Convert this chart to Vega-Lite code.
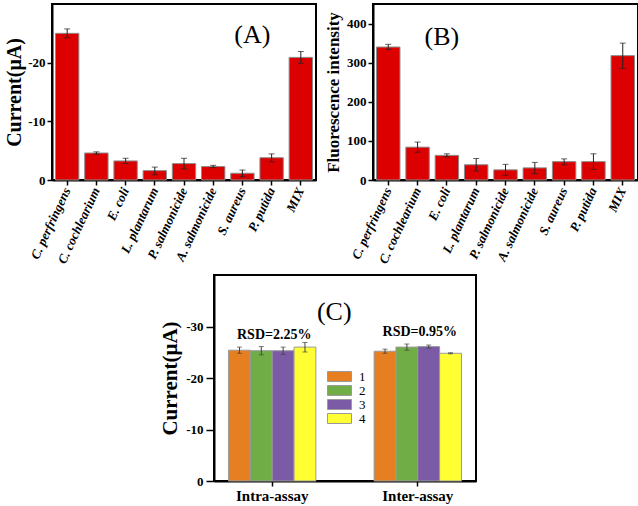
{
  "$schema": "https://vega.github.io/schema/vega-lite/v6.json",
  "background": "white",
  "padding": {"left": 3, "top": 3, "right": 0, "bottom": 0},
  "config": {
    "font": "Liberation Serif",
    "view": {"stroke": "black", "strokeWidth": 2},
    "axis": {
      "grid": false,
      "domainColor": "black",
      "domainWidth": 2,
      "tickColor": "black",
      "tickWidth": 1.5,
      "tickSize": 5,
      "labelOverlap": false,
      "labelFont": "Liberation Serif",
      "labelFontWeight": "bold",
      "labelFontSize": 13,
      "labelColor": "black",
      "titleFont": "Liberation Serif",
      "titleFontWeight": "bold",
      "titleColor": "black"
    },
    "legend": {"labelFont": "Liberation Serif", "labelColor": "black"}
  },
  "datasets": {
    "panelA": [
      {"species": "C. perfringens", "current": -25.0, "lo": -25.75, "hi": -24.25},
      {"species": "C. cochlearium", "current": -4.6, "lo": -4.8, "hi": -4.4},
      {"species": "E. coli", "current": -3.25, "lo": -3.7, "hi": -2.8},
      {"species": "L. plantarum", "current": -1.6, "lo": -2.2, "hi": -0.9},
      {"species": "P. salmonicide", "current": -2.8, "lo": -3.7, "hi": -1.9},
      {"species": "A. salmonicide", "current": -2.3, "lo": -2.5, "hi": -2.1},
      {"species": "S. aureus", "current": -1.15, "lo": -1.7, "hi": -0.55},
      {"species": "P. putida", "current": -3.8, "lo": -4.45, "hi": -3.1},
      {"species": "MIX", "current": -20.9, "lo": -21.9, "hi": -19.9}
    ],
    "panelB": [
      {"species": "C. perfringens", "intensity": 340, "lo": 334, "hi": 347},
      {"species": "C. cochlearium", "intensity": 84, "lo": 71, "hi": 97},
      {"species": "E. coli", "intensity": 63, "lo": 59, "hi": 67},
      {"species": "L. plantarum", "intensity": 39, "lo": 23, "hi": 55},
      {"species": "P. salmonicide", "intensity": 26, "lo": 12, "hi": 40},
      {"species": "A. salmonicide", "intensity": 31, "lo": 16, "hi": 45},
      {"species": "S. aureus", "intensity": 47, "lo": 39, "hi": 54},
      {"species": "P. putida", "intensity": 47, "lo": 27, "hi": 67},
      {"species": "MIX", "intensity": 318, "lo": 285, "hi": 350}
    ],
    "panelC": [
      {"assay": "Intra-assay", "rep": "1", "current": -25.4, "lo": -26.0, "hi": -24.8},
      {"assay": "Intra-assay", "rep": "2", "current": -25.3, "lo": -26.1, "hi": -24.5},
      {"assay": "Intra-assay", "rep": "3", "current": -25.3, "lo": -26.0, "hi": -24.6},
      {"assay": "Intra-assay", "rep": "4", "current": -26.0, "lo": -26.9, "hi": -25.05},
      {"assay": "Inter-assay", "rep": "1", "current": -25.2, "lo": -25.6, "hi": -24.8},
      {"assay": "Inter-assay", "rep": "2", "current": -26.0, "lo": -26.6, "hi": -25.4},
      {"assay": "Inter-assay", "rep": "3", "current": -26.1, "lo": -26.4, "hi": -25.8},
      {"assay": "Inter-assay", "rep": "4", "current": -24.8, "lo": -24.9, "hi": -24.7}
    ]
  },
  "vconcat": [
    {
      "hconcat": [
        {
          "width": 264,
          "height": 176,
          "data": {"name": "panelA"},
          "encoding": {
            "x": {
              "field": "species", "type": "nominal",
              "scale": {"domain": ["C. perfringens", "C. cochlearium", "E. coli", "L. plantarum", "P. salmonicide", "A. salmonicide", "S. aureus", "P. putida", "MIX"], "paddingInner": 0.2, "paddingOuter": 0.12},
              "axis": {"title": null, "labelAngle": -65, "labelAlign": "right", "labelBaseline": "middle", "labelFontStyle": "italic", "labelFontSize": 13, "labelPadding": 3}
            }
          },
          "layer": [
            {
              "mark": {"type": "bar", "fill": "#DD0000", "stroke": "#8c8c8c", "strokeWidth": 1},
              "encoding": {
                "y": {
                  "field": "current", "type": "quantitative",
                  "scale": {"domain": [0, -29]},
                  "axis": {"values": [0, -5, -10, -15, -20, -25], "labelExpr": "replace(datum.label, '\u2212', '-')", "title": "Current(\u03bcA)", "titleFontSize": 20, "titlePadding": 3}
                }
              }
            },
            {
              "mark": {"type": "rule", "color": "#222222", "strokeWidth": 1},
              "encoding": {"y": {"field": "lo", "type": "quantitative"}, "y2": {"field": "hi"}}
            },
            {
              "mark": {"type": "tick", "color": "#222222", "thickness": 1, "size": 6},
              "encoding": {"y": {"field": "lo", "type": "quantitative"}}
            },
            {
              "mark": {"type": "tick", "color": "#222222", "thickness": 1, "size": 6},
              "encoding": {"y": {"field": "hi", "type": "quantitative"}}
            },
            {
              "data": {"values": [{"species": "S. aureus", "current": -24.7, "label": "(A)"}]},
              "mark": {"type": "text", "dx": 10, "fontSize": 26, "font": "Liberation Serif", "color": "black"},
              "encoding": {"y": {"field": "current", "type": "quantitative"}, "text": {"field": "label"}}
            }
          ]
        },
        {
          "width": 265,
          "height": 176,
          "data": {"name": "panelB"},
          "encoding": {
            "x": {
              "field": "species", "type": "nominal",
              "scale": {"domain": ["C. perfringens", "C. cochlearium", "E. coli", "L. plantarum", "P. salmonicide", "A. salmonicide", "S. aureus", "P. putida", "MIX"], "paddingInner": 0.2, "paddingOuter": 0.12},
              "axis": {"title": null, "labelAngle": -65, "labelAlign": "right", "labelBaseline": "middle", "labelFontStyle": "italic", "labelFontSize": 13, "labelPadding": 3}
            }
          },
          "layer": [
            {
              "mark": {"type": "bar", "fill": "#DD0000", "stroke": "#8c8c8c", "strokeWidth": 1},
              "encoding": {
                "y": {
                  "field": "intensity", "type": "quantitative",
                  "scale": {"domain": [0, 421]},
                  "axis": {"values": [0, 100, 200, 300, 400], "title": "Fluorescence intensity", "titleFontSize": 17, "titlePadding": 4}
                }
              }
            },
            {
              "mark": {"type": "rule", "color": "#222222", "strokeWidth": 1},
              "encoding": {"y": {"field": "lo", "type": "quantitative"}, "y2": {"field": "hi"}}
            },
            {
              "mark": {"type": "tick", "color": "#222222", "thickness": 1, "size": 6},
              "encoding": {"y": {"field": "lo", "type": "quantitative"}}
            },
            {
              "mark": {"type": "tick", "color": "#222222", "thickness": 1, "size": 6},
              "encoding": {"y": {"field": "hi", "type": "quantitative"}}
            },
            {
              "data": {"values": [{"species": "E. coli", "intensity": 366, "label": "(B)"}]},
              "mark": {"type": "text", "dx": -5, "fontSize": 26, "font": "Liberation Serif", "color": "black"},
              "encoding": {"y": {"field": "intensity", "type": "quantitative"}, "text": {"field": "label"}}
            }
          ]
        }
      ],
      "spacing": 6
    },
    {
      "width": 262,
      "height": 206,
      "data": {"name": "panelC"},
      "encoding": {
        "x": {
          "field": "assay", "type": "nominal",
          "scale": {"domain": ["Intra-assay", "Inter-assay"], "paddingInner": 0.4, "paddingOuter": 0.1},
          "axis": {"title": null, "labelAngle": 0, "labelFontSize": 15, "labelPadding": 2}
        }
      },
      "layer": [
        {
          "mark": {"type": "bar", "stroke": "#9a9a9a", "strokeWidth": 1},
          "encoding": {
            "xOffset": {"field": "rep", "type": "nominal", "scale": {"paddingInner": 0, "paddingOuter": 0}},
            "y": {
              "field": "current", "type": "quantitative",
              "scale": {"domain": [0, -36]},
              "axis": {"values": [0, -10, -20, -30], "labelExpr": "replace(datum.label, '\u2212', '-')", "tickSize": 8, "labelPadding": 3, "title": "Current(\u03bcA)", "titleFontSize": 21, "titlePadding": 5}
            },
            "color": {
              "field": "rep", "type": "nominal",
              "scale": {"domain": ["1", "2", "3", "4"], "range": ["#E67E22", "#70AD47", "#7B5AA6", "#FFFF33"]},
              "legend": {"title": null, "orient": "none", "legendX": 119, "legendY": 95, "symbolType": "M-2.4,-1H2.4V1H-2.4Z", "symbolSize": 100, "symbolStrokeColor": "#9a9a9a", "symbolStrokeWidth": 1, "symbolOpacity": 1, "rowPadding": -4, "labelFontSize": 13, "labelOffset": 13, "padding": 0}
            }
          }
        },
        {
          "mark": {"type": "rule", "color": "#444444", "strokeWidth": 1},
          "encoding": {"xOffset": {"field": "rep", "type": "nominal"}, "y": {"field": "lo", "type": "quantitative"}, "y2": {"field": "hi"}}
        },
        {
          "mark": {"type": "tick", "color": "#444444", "thickness": 1, "size": 5},
          "encoding": {"xOffset": {"field": "rep", "type": "nominal"}, "y": {"field": "lo", "type": "quantitative"}}
        },
        {
          "mark": {"type": "tick", "color": "#444444", "thickness": 1, "size": 5},
          "encoding": {"xOffset": {"field": "rep", "type": "nominal"}, "y": {"field": "hi", "type": "quantitative"}}
        },
        {
          "data": {"values": [{"assay": "Intra-assay", "current": -32.9, "label": "(C)"}]},
          "mark": {"type": "text", "dx": 62, "fontSize": 26, "font": "Liberation Serif", "color": "black"},
          "encoding": {"y": {"field": "current", "type": "quantitative"}, "text": {"field": "label"}}
        },
        {
          "data": {"values": [
            {"assay": "Intra-assay", "current": -28.3, "label": "RSD=2.25%"},
            {"assay": "Inter-assay", "current": -29.0, "label": "RSD=0.95%"}
          ]},
          "mark": {"type": "text", "dx": 2, "fontSize": 14, "fontWeight": "bold", "font": "Liberation Serif", "color": "black"},
          "encoding": {"y": {"field": "current", "type": "quantitative"}, "text": {"field": "label"}}
        }
      ]
    }
  ],
  "spacing": 7,
  "center": true,
  "resolve": {"scale": {"color": "independent"}, "legend": {"color": "independent"}}
}
